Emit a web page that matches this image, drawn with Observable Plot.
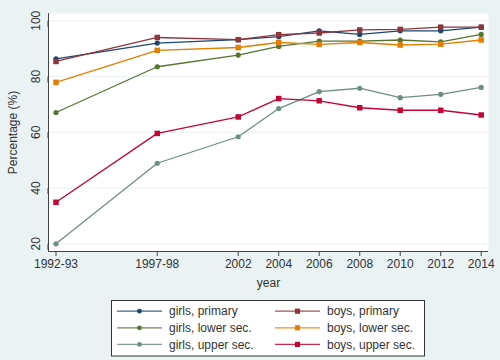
<!DOCTYPE html>
<html>
<head>
<meta charset="utf-8">
<script src="https://cdn.jsdelivr.net/npm/d3@7"></script>
<script src="https://cdn.jsdelivr.net/npm/@observablehq/plot@0.6"></script>
<style>
  html, body { margin: 0; padding: 0; background: #eaf2f3; }
  #wrap { position: relative; width: 500px; height: 360px; overflow: hidden; font-family: "Liberation Sans", Arial, sans-serif; }
  #legend { position: absolute; left: 0; top: 0; }
</style>
</head>
<body>
<div id="wrap"></div>
<script>
const years = [1993, 1998, 2002, 2004, 2006, 2008, 2010, 2012, 2014];
const yearLabels = ["1992-93", "1997-98", "2002", "2004", "2006", "2008", "2010", "2012", "2014"];
const yTicks = [20, 40, 60, 80, 100];

const girlsPrimary = [86.3, 92.0, 93.2, 94.3, 96.4, 95.1, 96.4, 96.4, 97.7];
const boysPrimary  = [85.4, 94.0, 93.2, 95.0, 95.6, 96.7, 96.9, 97.7, 97.7];
const girlsLower   = [67.1, 83.5, 87.7, 90.8, 92.7, 92.7, 93.1, 92.4, 95.1];
const boysLower    = [77.9, 89.4, 90.4, 92.2, 91.5, 92.2, 91.3, 91.6, 93.1];
const girlsUpper   = [20.0, 48.9, 58.4, 68.5, 74.6, 75.8, 72.4, 73.6, 76.1];
const boysUpper    = [34.9, 59.6, 65.5, 72.1, 71.3, 68.8, 67.9, 67.9, 66.2];

const seriesNames = ["girls, primary", "boys, primary", "girls, lower sec.", "boys, lower sec.", "girls, upper sec.", "boys, upper sec."];
const seriesValues = [girlsPrimary, boysPrimary, girlsLower, boysLower, girlsUpper, boysUpper];
const seriesColors = ["#1a476f", "#90353b", "#55752f", "#e37e00", "#6e8e84", "#c10534"];
const seriesSymbols = ["circle", "square", "circle", "square", "circle", "square"];

const xDomain = [1992.63, 2014.36];
const yDomain = [17.25, 102.6];

const marks = [
  Plot.frame({fill: "white", stroke: null}),
  Plot.gridY(yTicks, {stroke: "#eaf2f3", strokeOpacity: 1, strokeWidth: 1}),
  Plot.ruleX([xDomain[0]], {stroke: "#444", strokeWidth: 1}),
  Plot.ruleY([yDomain[0]], {stroke: "#444", strokeWidth: 1}),
  Plot.axisY(yTicks, {
    tickSize: 6, tickPadding: 3, rotate: -90, textAnchor: "middle", lineAnchor: "bottom",
    stroke: "#444", fill: "#333",
    label: "Percentage (%)", labelAnchor: "center", labelArrow: "none", labelOffset: 40
  }),
  Plot.axisX(years, {
    tickSize: 5, tickPadding: 3, stroke: "#444", fill: "#333",
    tickFormat: d => yearLabels[years.indexOf(d)],
    label: "year", labelAnchor: "center", labelArrow: "none", labelOffset: 35
  })
];

seriesNames.forEach((name, i) => {
  const rows = years.map((yr, j) => ({year: yr, value: seriesValues[i][j], name}));
  marks.push(Plot.line(rows, {x: "year", y: "value", stroke: seriesColors[i], strokeWidth: 1.3}));
  marks.push(Plot.dot(rows, {
    x: "year", y: "value", fill: seriesColors[i], stroke: "none",
    symbol: seriesSymbols[i], r: seriesSymbols[i] === "square" ? 3.1 : 2.6
  }));
});

const chart = Plot.plot({
  width: 500, height: 290,
  marginLeft: 48, marginRight: 12, marginTop: 13, marginBottom: 39,
  style: {background: "transparent", fontFamily: "'Liberation Sans', Arial, sans-serif", fontSize: "12px", color: "#333"},
  x: {type: "linear", domain: xDomain},
  y: {domain: yDomain},
  marks
});
document.getElementById("wrap").appendChild(chart);

// legend
const lg = d3.select("#wrap").append("svg")
  .attr("id", "legend")
  .attr("width", 500).attr("height", 360)
  .style("pointer-events", "none")
  .style("font-family", "'Liberation Sans', Arial, sans-serif")
  .style("font-size", "12px");
lg.append("rect").attr("x", 111.5).attr("y", 300.5).attr("width", 313).attr("height", 55.5)
  .attr("fill", "white").attr("stroke", "#333").attr("stroke-width", 1);
seriesNames.forEach((name, i) => {
  const col = i % 2, row = Math.floor(i / 2);
  const x0 = 117 + col * 158, yc = 311.2 + row * 16.6;
  lg.append("line").attr("x1", x0).attr("x2", x0 + 45).attr("y1", yc).attr("y2", yc)
    .attr("stroke", seriesColors[i]).attr("stroke-width", 1.3).attr("stroke-opacity", 0.85);
  if (seriesSymbols[i] === "circle") {
    lg.append("circle").attr("cx", x0 + 22.5).attr("cy", yc).attr("r", 2.4).attr("fill", seriesColors[i]);
  } else {
    lg.append("rect").attr("x", x0 + 22.5 - 2.6).attr("y", yc - 2.6).attr("width", 5.2).attr("height", 5.2).attr("fill", seriesColors[i]);
  }
  lg.append("text").attr("x", x0 + 52).attr("y", yc).attr("dy", "0.35em").attr("fill", "#333").text(name);
});
</script>
</body>
</html>
